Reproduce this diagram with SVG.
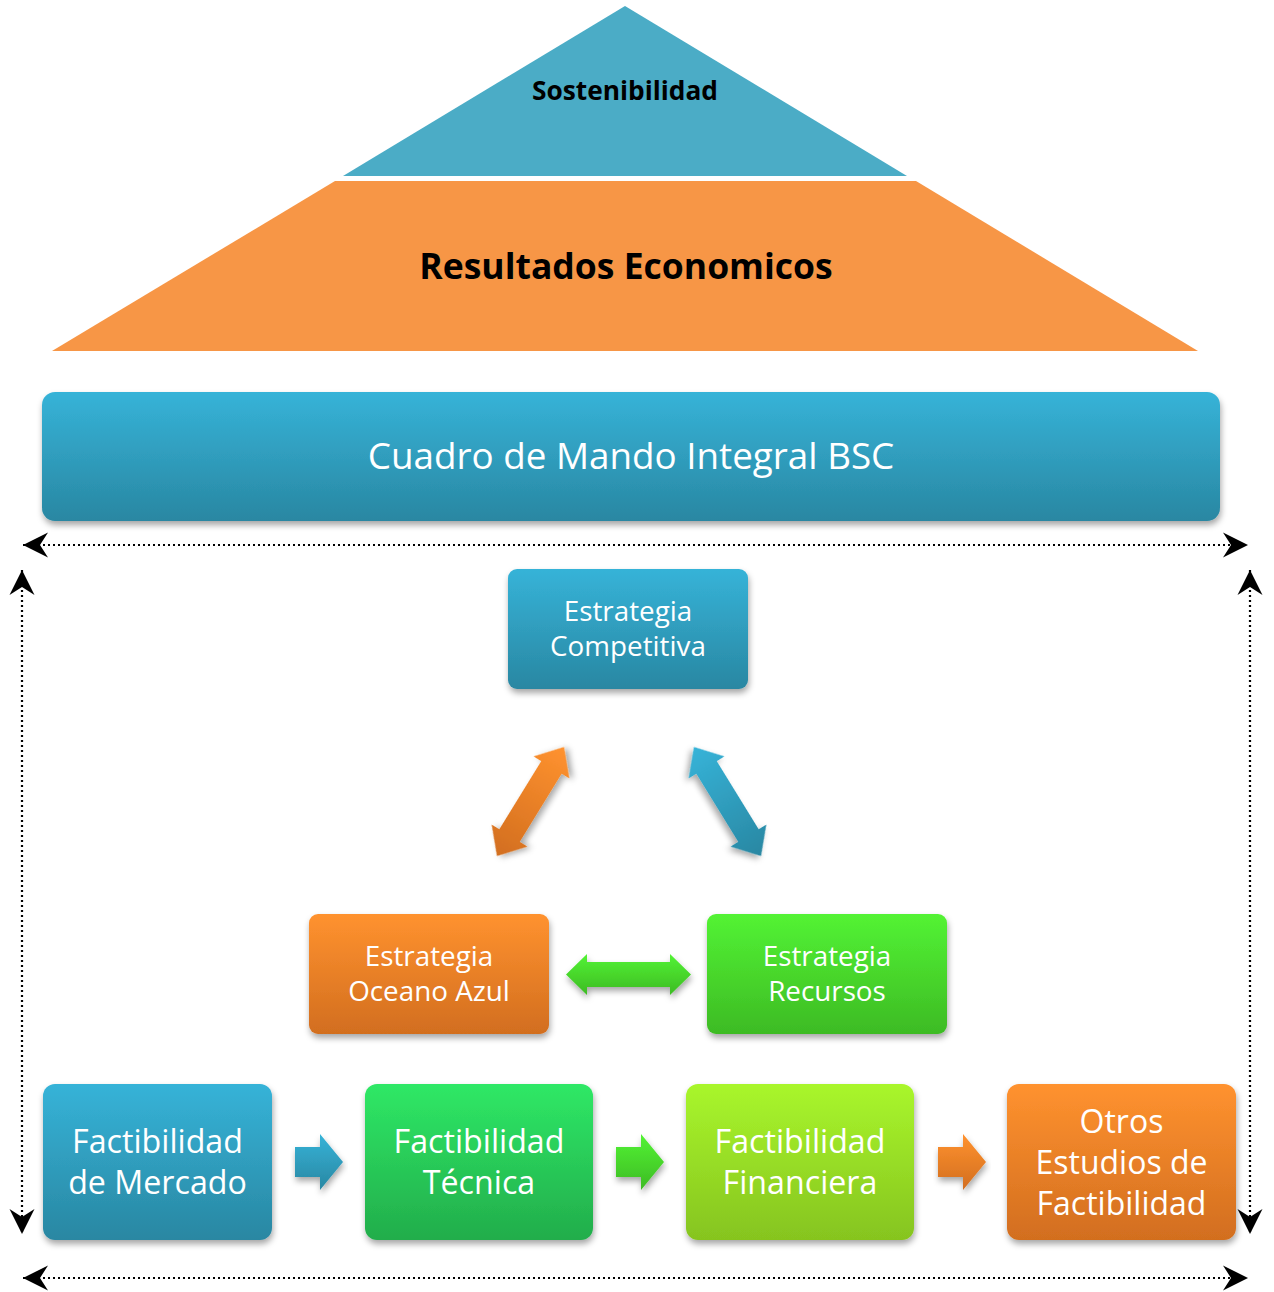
<svg xmlns="http://www.w3.org/2000/svg" width="1274" height="1292" viewBox="0 0 1274 1292">
  <defs>
    <style>
      .lbl { font-family: "Open Sans", "Noto Sans", "DejaVu Sans", sans-serif; fill: #ffffff; text-anchor: middle; }
      .ttl { font-family: "Open Sans", "Noto Sans", "DejaVu Sans", sans-serif; font-weight: bold; fill: #000000; text-anchor: middle; }
      .dots { fill: none; stroke: #000000; stroke-width: 2.2; stroke-dasharray: 2 3; }
    </style>
    <linearGradient id="gBlue" x1="0" y1="0" x2="0" y2="1">
      <stop offset="0" stop-color="#36B3D8"/>
      <stop offset="1" stop-color="#2987A2"/>
    </linearGradient>
    <linearGradient id="gOrange" x1="0" y1="0" x2="0" y2="1">
      <stop offset="0" stop-color="#FF922F"/>
      <stop offset="1" stop-color="#D26E1F"/>
    </linearGradient>
    <linearGradient id="gGreen" x1="0" y1="0" x2="0" y2="1">
      <stop offset="0" stop-color="#53F334"/>
      <stop offset="1" stop-color="#3DBB24"/>
    </linearGradient>
    <linearGradient id="gTeal" x1="0" y1="0" x2="0" y2="1">
      <stop offset="0" stop-color="#2FE866"/>
      <stop offset="1" stop-color="#22AD4B"/>
    </linearGradient>
    <linearGradient id="gLime" x1="0" y1="0" x2="0" y2="1">
      <stop offset="0" stop-color="#A9F62C"/>
      <stop offset="1" stop-color="#86C41F"/>
    </linearGradient>
    <linearGradient id="gOrangeDiag" x1="0" y1="0" x2="1" y2="0">
      <stop offset="0" stop-color="#D26E1F"/>
      <stop offset="1" stop-color="#FF922F"/>
    </linearGradient>
    <linearGradient id="gBlueDiag" x1="0" y1="0" x2="1" y2="0">
      <stop offset="0" stop-color="#36B3D8"/>
      <stop offset="1" stop-color="#2987A2"/>
    </linearGradient>
    <filter id="shadow" x="-10%" y="-10%" width="120%" height="130%">
      <feDropShadow dx="1" dy="4" stdDeviation="3" flood-color="#000000" flood-opacity="0.35"/>
    </filter>
    <marker id="head" viewBox="-26 -13 27 26" refX="0" refY="0" markerWidth="27" markerHeight="26" markerUnits="userSpaceOnUse" orient="auto-start-reverse">
      <path d="M0,0 L-25,-12.5 L-17,0 L-25,12.5 Z" fill="#000000" stroke="none"/>
    </marker>
    <!-- block arrow shapes -->
    <path id="dblArrowDiag" d="M-64,0 L-40,-21 L-40,-12 L40,-12 L40,-21 L64,0 L40,21 L40,12 L-40,12 L-40,21 Z"/>
    <path id="rightArrow" d="M0,-15 L25,-15 L25,-28 L48,0 L25,28 L25,15 L0,15 Z"/>
  </defs>

  <!-- pyramid -->
  <g id="sostenibilidad">
    <polygon points="625,6 907,176 343,176" fill="#4BACC6"/>
    <text class="ttl" x="625" y="100" font-size="26.3">Sostenibilidad</text>
  </g>
  <g id="resultados">
    <polygon points="335,181 916,181 1198,351 52,351" fill="#F79646"/>
    <text class="ttl" x="626" y="279" font-size="35.5">Resultados Economicos</text>
  </g>

  <!-- balanced scorecard bar -->
  <g id="bsc">
    <rect x="42" y="392" width="1178" height="129" rx="13" fill="url(#gBlue)" filter="url(#shadow)"/>
    <text class="lbl" x="631" y="469" font-size="36.8">Cuadro de Mando Integral BSC</text>
  </g>

  <!-- strategy nodes -->
  <g id="estrategia-competitiva">
    <rect x="508" y="569" width="240" height="120" rx="9" fill="url(#gBlue)" filter="url(#shadow)"/>
    <text class="lbl" x="628" y="621" font-size="27.8">Estrategia</text>
    <text class="lbl" x="628" y="656" font-size="27.8">Competitiva</text>
  </g>
  <g id="estrategia-oceano-azul">
    <rect x="309" y="914" width="240" height="120" rx="9" fill="url(#gOrange)" filter="url(#shadow)"/>
    <text class="lbl" x="429" y="966" font-size="27.8">Estrategia</text>
    <text class="lbl" x="429" y="1001" font-size="27.8">Oceano Azul</text>
  </g>
  <g id="estrategia-recursos">
    <rect x="707" y="914" width="240" height="120" rx="9" fill="url(#gGreen)" filter="url(#shadow)"/>
    <text class="lbl" x="827" y="966" font-size="27.8">Estrategia</text>
    <text class="lbl" x="827" y="1001" font-size="27.8">Recursos</text>
  </g>

  <!-- feasibility nodes -->
  <g id="factibilidad-mercado">
    <rect x="43" y="1084" width="229" height="156" rx="12" fill="url(#gBlue)" filter="url(#shadow)"/>
    <text class="lbl" x="157.5" y="1153" font-size="32.2">Factibilidad</text>
    <text class="lbl" x="157.5" y="1194" font-size="32.2">de Mercado</text>
  </g>
  <g id="factibilidad-tecnica">
    <rect x="365" y="1084" width="228" height="156" rx="12" fill="url(#gTeal)" filter="url(#shadow)"/>
    <text class="lbl" x="479" y="1153" font-size="32.2">Factibilidad</text>
    <text class="lbl" x="479" y="1194" font-size="32.2">Técnica</text>
  </g>
  <g id="factibilidad-financiera">
    <rect x="686" y="1084" width="228" height="156" rx="12" fill="url(#gLime)" filter="url(#shadow)"/>
    <text class="lbl" x="800" y="1153" font-size="32.2">Factibilidad</text>
    <text class="lbl" x="800" y="1194" font-size="32.2">Financiera</text>
  </g>
  <g id="otros-estudios">
    <rect x="1007" y="1084" width="229" height="156" rx="12" fill="url(#gOrange)" filter="url(#shadow)"/>
    <text class="lbl" x="1121.5" y="1133" font-size="32">Otros</text>
    <text class="lbl" x="1121.5" y="1174" font-size="32">Estudios de</text>
    <text class="lbl" x="1121.5" y="1215" font-size="32">Factibilidad</text>
  </g>

  <!-- connectors -->
  <g id="connectors">
    <!-- strategy links -->
    <use href="#dblArrowDiag" transform="translate(530.5 801.5) rotate(-58.4)" fill="url(#gOrangeDiag)" filter="url(#shadow)"/>
    <use href="#dblArrowDiag" transform="translate(727.5 801.5) rotate(58.4)" fill="url(#gBlueDiag)" filter="url(#shadow)"/>
    <path d="M566,974.5 L587,954 L587,962 L670,962 L670,954 L691,974.5 L670,995 L670,987 L587,987 L587,995 Z" fill="url(#gGreen)" filter="url(#shadow)"/>

    <!-- feasibility sequence -->
    <use href="#rightArrow" transform="translate(295 1162)" fill="url(#gBlue)" filter="url(#shadow)"/>
    <use href="#rightArrow" transform="translate(616 1162)" fill="url(#gGreen)" filter="url(#shadow)"/>
    <use href="#rightArrow" transform="translate(938 1162)" fill="url(#gOrange)" filter="url(#shadow)"/>

    <!-- dotted frame -->
    <path class="dots" d="M23,545 H1248" marker-start="url(#head)" marker-end="url(#head)"/>
    <path class="dots" d="M23,1278 H1248" marker-start="url(#head)" marker-end="url(#head)"/>
    <path class="dots" d="M22,570 V1234" marker-start="url(#head)" marker-end="url(#head)"/>
    <path class="dots" d="M1250,570 V1234" marker-start="url(#head)" marker-end="url(#head)"/>
  </g>
</svg>
